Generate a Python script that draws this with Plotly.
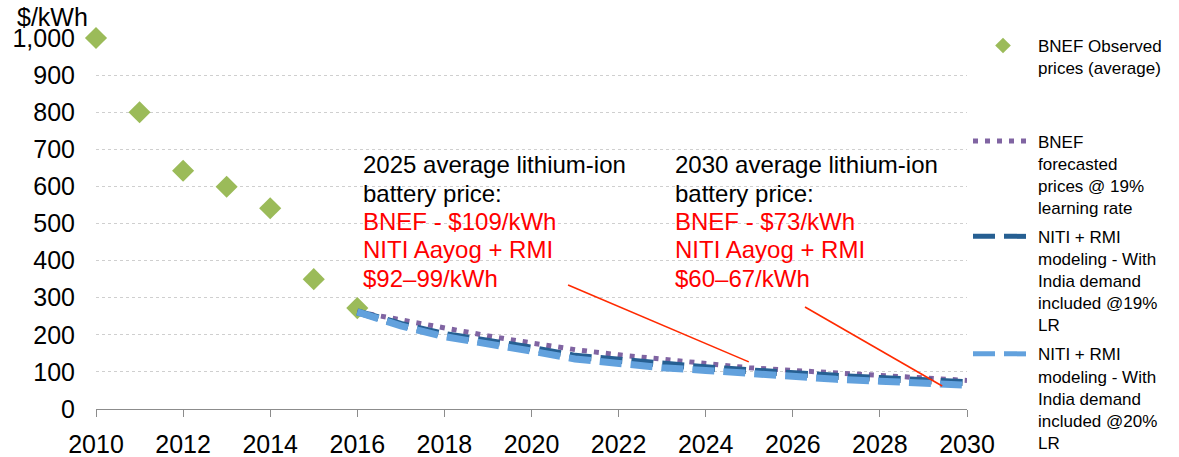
import plotly.graph_objects as go

# ---------------- data ----------------
obs_years = [2010, 2011, 2012, 2013, 2014, 2015, 2016]
obs_prices = [1000, 800, 642, 599, 541, 350, 272]

fc_years = [2016, 2017, 2018, 2019, 2020, 2021, 2022, 2023,
            2024, 2025, 2026, 2027, 2028, 2029, 2030]
bnef_forecast = [262, 240, 216, 197, 178, 160, 146, 134,
                 122, 111, 104, 97, 90, 84, 77]
niti_19 = [262, 228, 201, 183, 164, 142, 131, 118,
           111, 103, 94, 88, 82, 76, 71]
niti_20 = [262, 224, 195, 177, 156, 135, 121, 111,
           104, 95, 87, 80, 75, 69, 64]

x_ticks = [2010, 2012, 2014, 2016, 2018, 2020, 2022, 2024, 2026, 2028, 2030]
y_ticks = [0, 100, 200, 300, 400, 500, 600, 700, 800, 900, 1000]

series_names = [
    "BNEF Observed<br>prices (average)<br>\u00a0<br>\u00a0",
    "BNEF<br>forecasted<br>prices @ 19%<br>learning rate",
    "NITI + RMI<br>modeling - With<br>India demand<br>included @19%<br>LR",
    "NITI + RMI<br>modeling - With<br>India demand<br>included @20%<br>LR",
]

callout_2025 = ["2025 average lithium-ion", "battery price:",
                "BNEF - $109/kWh", "NITI Aayog + RMI", "$92\u201399/kWh"]
callout_2030 = ["2030 average lithium-ion", "battery price:",
                "BNEF - $73/kWh", "NITI Aayog + RMI", "$60\u201367/kWh"]
callout_colors = ["#000000", "#000000", "#ff0000", "#ff0000", "#ff0000"]

# pointer lines (x0, y0, x1, y1) in data units
pointer_2025 = [2020.84, 334, 2024.99, 127]
pointer_2030 = [2026.28, 275, 2029.43, 62]

FONT = "Arial, Liberation Sans, Helvetica, sans-serif"

fig = go.Figure()

fig.add_trace(go.Scatter(
    x=obs_years, y=obs_prices, mode="markers", name=series_names[0],
    legendgroup="g1",
    marker=dict(symbol="diamond", size=17, color="#9bbb59",
                line=dict(width=0)),
    cliponaxis=False,
))
fig.add_trace(go.Scatter(
    x=fc_years, y=bnef_forecast, mode="lines", name=series_names[1],
    legendgroup="g2",
    line=dict(color="#8064a2", width=5, dash="5px,7px"),
))
fig.add_trace(go.Scatter(
    x=fc_years, y=niti_19, mode="lines", name=series_names[2],
    legendgroup="g3",
    line=dict(color="#265f92", width=7, dash="22px,9px"),
))
fig.add_trace(go.Scatter(
    x=fc_years, y=niti_20, mode="lines", name=series_names[3],
    legendgroup="g4",
    line=dict(color="#62a1dd", width=7, dash="22px,9px"),
))

annotations = []
line_step = 76.3  # data units between callout lines
top_val = 658
for block, x0 in ((callout_2025, 2016.08), (callout_2030, 2023.24)):
    for i, (txt, col) in enumerate(zip(block, callout_colors)):
        annotations.append(dict(
            x=x0, y=top_val - i * line_step, xref="x", yref="y",
            text=txt, showarrow=False, xanchor="left", yanchor="middle",
            font=dict(family=FONT, size=24, color=col),
        ))

annotations.append(dict(
    x=-44 / 871, y=1 + 21 / 371, xref="paper", yref="paper",
    text="$/kWh", showarrow=False, xanchor="center", yanchor="middle",
    font=dict(family=FONT, size=25, color="#000000"),
))

shapes = []
for p in (pointer_2025, pointer_2030):
    shapes.append(dict(type="line", xref="x", yref="y",
                       x0=p[0], y0=p[1], x1=p[2], y1=p[3],
                       line=dict(color="#ff2a00", width=1.6)))

fig.update_layout(
    width=1179, height=457, autosize=False,
    margin=dict(l=96, r=212, t=38, b=48, pad=0, autoexpand=False),
    paper_bgcolor="white", plot_bgcolor="white",
    font=dict(family=FONT, color="#000000"),
    showlegend=True,
    legend=dict(
        xref="container", yref="container",
        x=968 / 1179, y=1 - 28 / 457, xanchor="left", yanchor="top",
        font=dict(family=FONT, size=17, color="#000000"),
        valign="top", itemwidth=60, itemsizing="constant",
        bgcolor="rgba(0,0,0,0)", tracegroupgap=4, maxheight=455,
    ),
    xaxis=dict(
        range=[2010, 2030], tickvals=x_ticks, ticks="outside", ticklen=7,
        tickcolor="#8c8c8c", showline=True, linecolor="#8c8c8c", linewidth=1,
        showgrid=False, zeroline=False,
        tickfont=dict(family=FONT, size=25, color="#000000"),
        ticklabelstandoff=6,
    ),
    yaxis=dict(
        range=[0, 1000], tickvals=y_ticks, tickformat=",",
        showgrid=True, gridcolor="#cfcfcf", griddash="dot", gridwidth=1,
        showline=False, zeroline=False, ticks="",
        tickfont=dict(family=FONT, size=25, color="#000000"),
        ticklabelstandoff=20,
    ),
    annotations=annotations,
    shapes=shapes,
)

fig.write_html("out.html", config={"displayModeBar": False},
               post_script="document.body.style.margin='0';")
